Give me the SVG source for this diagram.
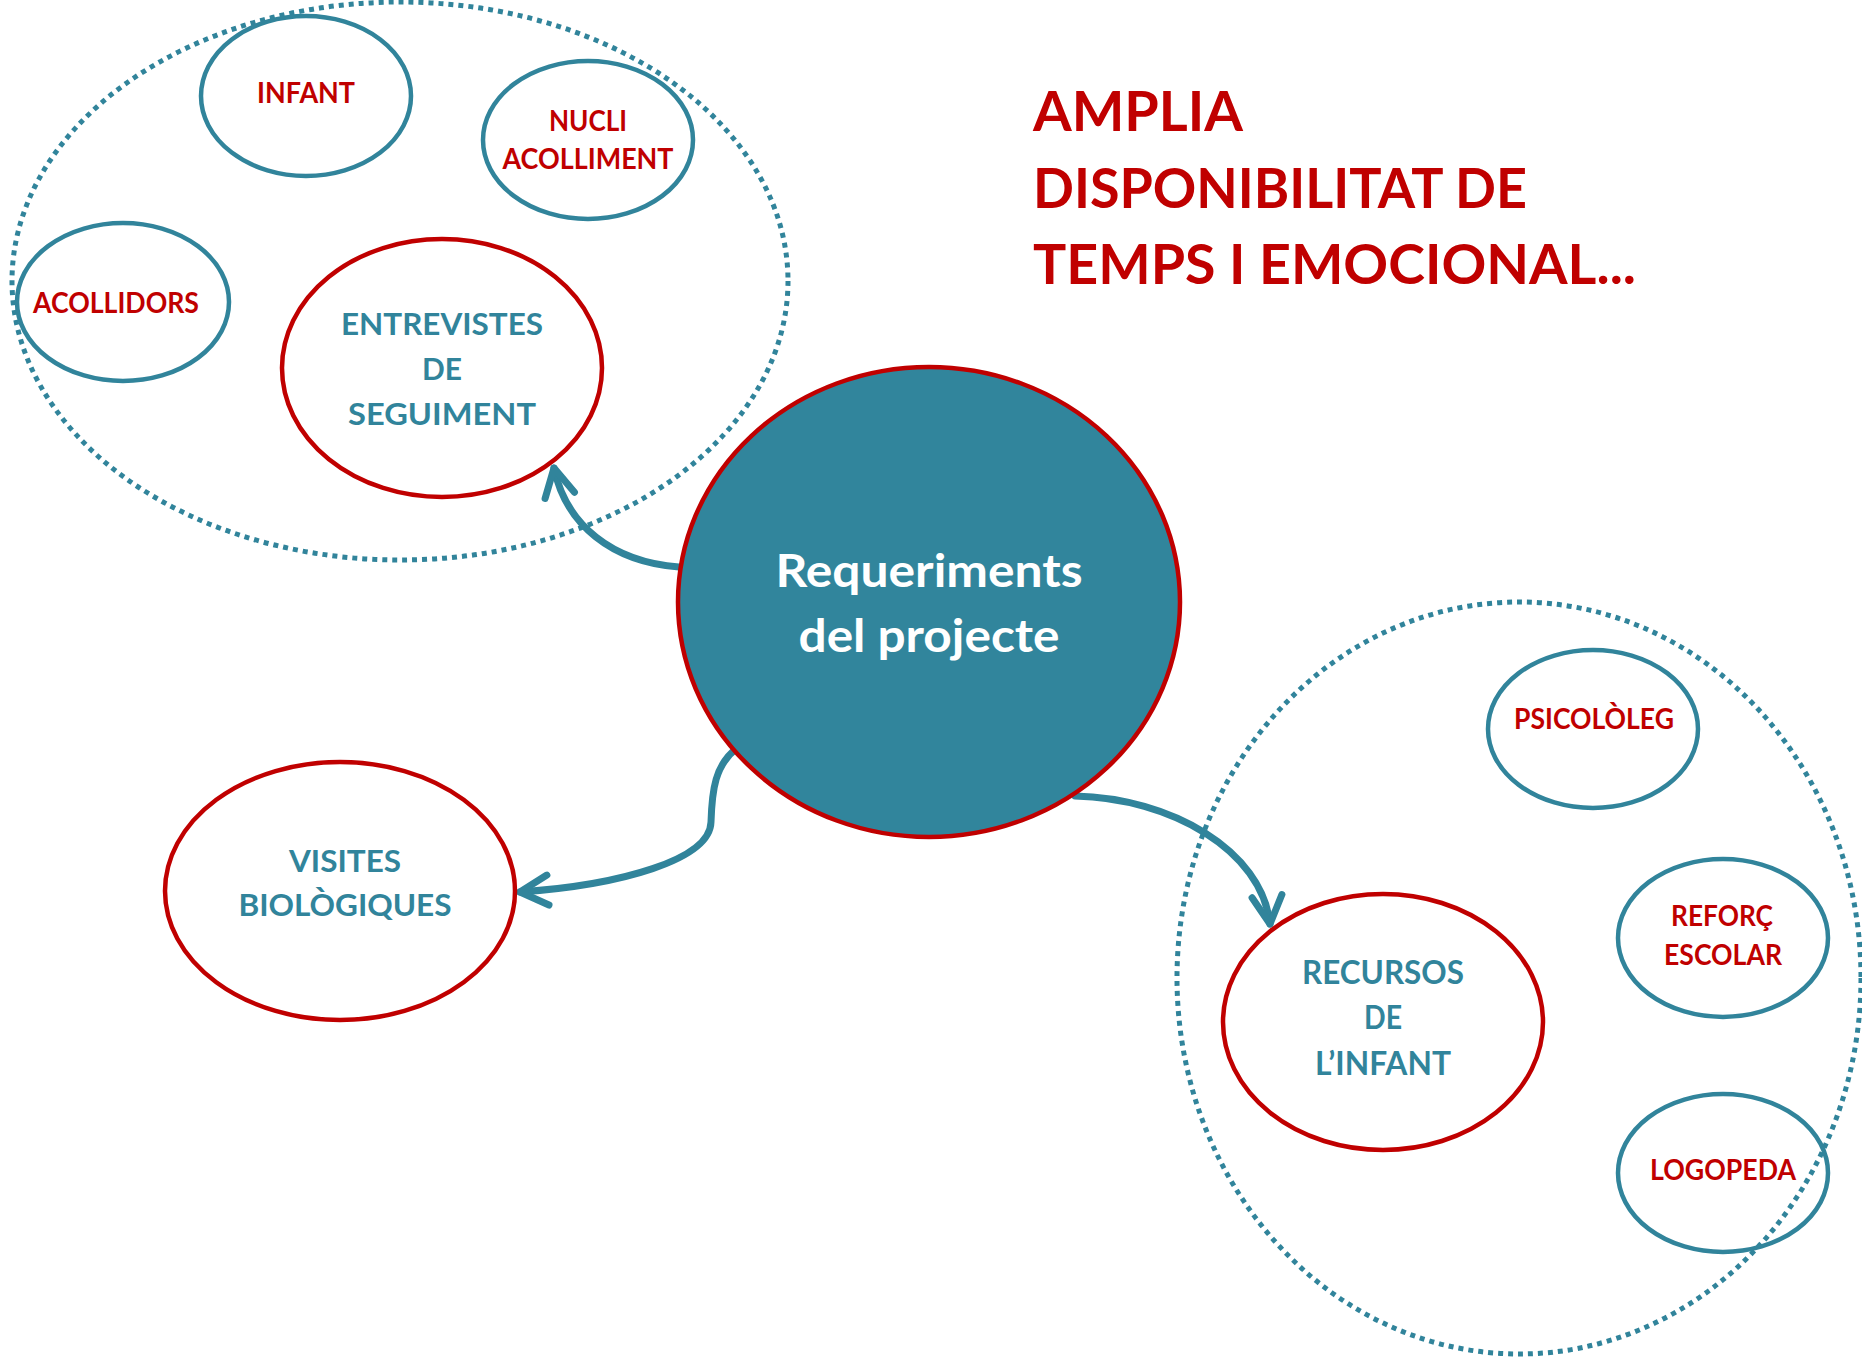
<svg xmlns="http://www.w3.org/2000/svg" width="1862" height="1358" viewBox="0 0 1862 1358">
<defs>
<style>
.bg{fill:#ffffff}
.dot{fill:none;stroke:#31849B;stroke-width:5;stroke-dasharray:5 5}
.tn{fill:none;stroke:#31849B;stroke-width:4.5}
.rn{fill:none;stroke:#C00000;stroke-width:4.5}
.cn{fill:#31859C;stroke:#C00000;stroke-width:4.5}
.t{font-family:Lato,"Open Sans","Liberation Sans",sans-serif;font-weight:bold;text-anchor:middle}
.red{fill:#C00000}
.teal{fill:#31849B}
.wh{fill:#ffffff}
.s28{font-size:28px}
.s31{font-size:31px}
.s33{font-size:33px}
.s46{font-size:46px}
.title{font-family:Lato,"Open Sans","Liberation Sans",sans-serif;font-weight:bold;font-size:56px;fill:#C00000}
.con{fill:none;stroke:#31849B;stroke-width:7;stroke-linecap:round;marker-end:url(#arr)}
</style>
<marker id="arr" viewBox="-40 -25 50 50" refX="0" refY="0" markerWidth="50" markerHeight="50" markerUnits="userSpaceOnUse" orient="auto">
<path d="M -28 -15 L 0 0 L -28 15" fill="none" stroke="#31849B" stroke-width="7" stroke-linecap="round" stroke-linejoin="round"/>
</marker>
</defs>
<rect class="bg" x="0" y="0" width="1862" height="1358"/>

<g id="group-top-left">
<ellipse class="dot" cx="400" cy="281" rx="388" ry="279"/>
</g>
<g id="group-bottom-right">
<ellipse class="dot" cx="1519" cy="978" rx="342" ry="376"/>
</g>

<g id="connectors">
<path class="con" d="M 679 567 C 612 562, 566 525, 554 468"/>
<path class="con" d="M 737 748 C 715 765, 712 790, 711 822 C 710 860, 620 885, 520 892"/>
<path class="con" d="M 1075 796 C 1170 798, 1262 850, 1270 924"/>
</g>

<g id="node-infant">
<ellipse class="tn" cx="306" cy="96" rx="105" ry="80"/>
<text class="t red s28" x="306" y="103" textLength="98" lengthAdjust="spacingAndGlyphs">INFANT</text>
</g>
<g id="node-nucli">
<ellipse class="tn" cx="588" cy="140" rx="105" ry="79"/>
<text class="t red s28" x="588" y="131" textLength="78" lengthAdjust="spacingAndGlyphs">NUCLI</text>
<text class="t red s28" x="588" y="169" textLength="171" lengthAdjust="spacingAndGlyphs">ACOLLIMENT</text>
</g>
<g id="node-acollidors">
<ellipse class="tn" cx="123" cy="302" rx="106" ry="79"/>
<text class="t red s28" x="116" y="313" textLength="166" lengthAdjust="spacingAndGlyphs">ACOLLIDORS</text>
</g>
<g id="node-entrevistes">
<ellipse class="rn" cx="442" cy="368" rx="160" ry="129"/>
<text class="t teal s31" x="442" y="335" textLength="202" lengthAdjust="spacingAndGlyphs">ENTREVISTES</text>
<text class="t teal s31" x="442" y="380" textLength="40" lengthAdjust="spacingAndGlyphs">DE</text>
<text class="t teal s31" x="442" y="425" textLength="188" lengthAdjust="spacingAndGlyphs">SEGUIMENT</text>
</g>

<g id="node-center">
<ellipse class="cn" cx="929" cy="602" rx="251" ry="235"/>
<text class="t wh s46" x="929" y="587" textLength="307" lengthAdjust="spacingAndGlyphs">Requeriments</text>
<text class="t wh s46" x="929" y="652" textLength="261" lengthAdjust="spacingAndGlyphs">del projecte</text>
</g>

<g id="node-visites">
<ellipse class="rn" cx="340" cy="891" rx="175" ry="129"/>
<text class="t teal s31" x="345" y="872" textLength="112" lengthAdjust="spacingAndGlyphs">VISITES</text>
<text class="t teal s31" x="345" y="916" textLength="213" lengthAdjust="spacingAndGlyphs">BIOLÒGIQUES</text>
</g>

<g id="node-recursos">
<ellipse class="rn" cx="1383" cy="1022" rx="160" ry="128"/>
<text class="t teal s33" x="1383" y="984" textLength="162" lengthAdjust="spacingAndGlyphs">RECURSOS</text>
<text class="t teal s33" x="1383" y="1029" textLength="38" lengthAdjust="spacingAndGlyphs">DE</text>
<text class="t teal s33" x="1383" y="1075" textLength="136" lengthAdjust="spacingAndGlyphs">L’INFANT</text>
</g>
<g id="node-psicologeg">
<ellipse class="tn" cx="1593" cy="729" rx="105" ry="79"/>
<text class="t red s28" x="1594" y="729" textLength="160" lengthAdjust="spacingAndGlyphs">PSICOLÒLEG</text>
</g>
<g id="node-reforc">
<ellipse class="tn" cx="1723" cy="938" rx="105" ry="79"/>
<text class="t red s28" x="1722" y="926" textLength="102" lengthAdjust="spacingAndGlyphs">REFORÇ</text>
<text class="t red s28" x="1723" y="965" textLength="118" lengthAdjust="spacingAndGlyphs">ESCOLAR</text>
</g>
<g id="node-logopeda">
<ellipse class="tn" cx="1723" cy="1173" rx="105" ry="79"/>
<text class="t red s28" x="1723" y="1180" textLength="146" lengthAdjust="spacingAndGlyphs">LOGOPEDA</text>
</g>

<g id="title">
<text class="title" x="1033" y="131" textLength="210" lengthAdjust="spacingAndGlyphs">AMPLIA</text>
<text class="title" x="1033" y="208" textLength="494" lengthAdjust="spacingAndGlyphs">DISPONIBILITAT DE</text>
<text class="title" x="1033" y="284" textLength="603" lengthAdjust="spacingAndGlyphs">TEMPS I EMOCIONAL...</text>
</g>
</svg>
